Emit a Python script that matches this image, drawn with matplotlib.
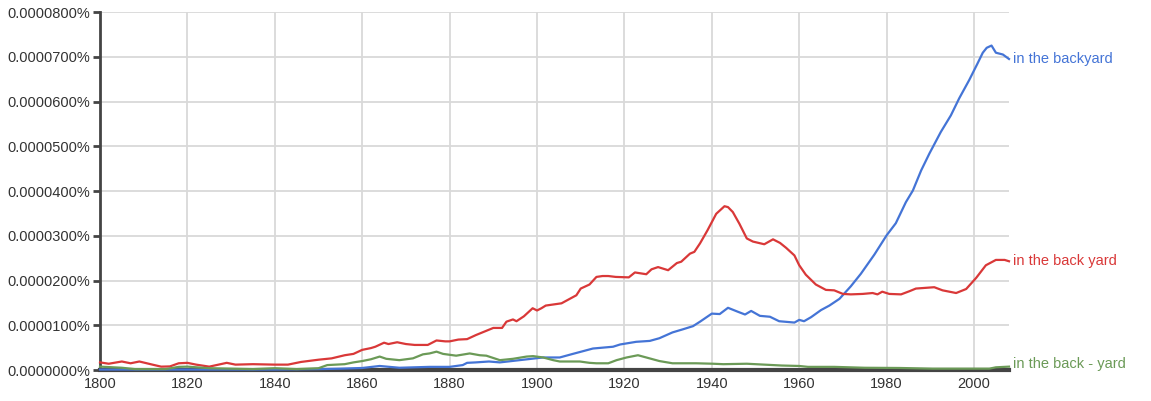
import matplotlib.pyplot as plt
from matplotlib.ticker import FuncFormatter

# Values, in units of 0.0000100 %
years_red = [1800, 1802, 1805, 1807, 1809, 1812, 1814, 1816, 1818, 1820, 1822, 1825,
             1829, 1831, 1835, 1840, 1843, 1846, 1850, 1853, 1856, 1858, 1860, 1862,
             1863, 1865, 1866, 1868, 1870, 1872, 1875, 1877, 1879, 1880, 1882, 1884,
             1886, 1888, 1890, 1892, 1893, 1894.5, 1895.3, 1897, 1899, 1900, 1901, 1902,
             1905.6, 1909, 1910, 1912, 1913.6, 1915, 1916.3, 1918, 1921, 1922.4, 1925,
             1926.2, 1927.7, 1930, 1932, 1933, 1935, 1936, 1937.3, 1939, 1941, 1942.9,
             1943.7, 1944.8, 1946.3, 1948, 1949.4, 1952, 1954, 1955.6, 1957, 1958.9,
             1960, 1961.5, 1963.8, 1966.1, 1968, 1970, 1971.8, 1974.5, 1976.8, 1977.9,
             1979, 1980.6, 1983.3, 1985.2, 1986.7, 1990.9, 1992.8, 1995.9, 1998.2,
             2000.5, 2002.7, 2005, 2007, 2008]
red = [0.17, 0.14, 0.19, 0.15, 0.19, 0.12, 0.075, 0.08, 0.15, 0.16, 0.12, 0.075,
       0.16, 0.12, 0.13, 0.12, 0.12, 0.18, 0.23, 0.26, 0.33, 0.36, 0.45, 0.49,
       0.52, 0.61, 0.58, 0.62, 0.58, 0.56, 0.56, 0.66, 0.64, 0.64, 0.68, 0.69,
       0.78, 0.86, 0.94, 0.94, 1.08, 1.13, 1.09, 1.20, 1.38, 1.33, 1.38, 1.44,
       1.49, 1.67, 1.82, 1.91, 2.08, 2.10, 2.10, 2.08, 2.07, 2.18, 2.14,
       2.25, 2.30, 2.23, 2.39, 2.42, 2.60, 2.64, 2.83, 3.12, 3.49, 3.66,
       3.64, 3.53, 3.27, 2.94, 2.87, 2.81, 2.92, 2.84, 2.73, 2.56,
       2.34, 2.13, 1.91, 1.79, 1.78, 1.70, 1.69, 1.70, 1.72, 1.69,
       1.75, 1.70, 1.69, 1.76, 1.82, 1.85, 1.78, 1.72, 1.81,
       2.06, 2.34, 2.46, 2.46, 2.43]

years_blue = [1800, 1820, 1840, 1850, 1855, 1860, 1864, 1868.5, 1875.4, 1880, 1883,
              1884, 1886, 1889, 1891.5, 1896, 1901.4, 1905.2, 1908.2, 1910.5, 1912.8,
              1917.4, 1919, 1922.7, 1925.8, 1928, 1931, 1933.4, 1935.7, 1937.3, 1940,
              1941.8, 1943.7, 1946, 1947.6, 1949, 1951, 1953.3, 1955.4, 1958.9, 1960,
              1961.1, 1962.7, 1965, 1966.9, 1969.2, 1971.8, 1974.1, 1977.2, 1980,
              1982.1, 1984.4, 1986, 1987.9, 1989.8, 1992.4, 1994.7, 1996.6, 1998.9,
              2000.8, 2002, 2002.9, 2004, 2005, 2006.6, 2008]
blue = [0.01, 0.01, 0.01, 0.02, 0.03, 0.045, 0.09, 0.05, 0.07, 0.07, 0.11,
        0.16, 0.17, 0.19, 0.17, 0.22, 0.28, 0.28, 0.36, 0.42, 0.48,
        0.52, 0.57, 0.63, 0.65, 0.71, 0.84, 0.91, 0.98, 1.08, 1.26,
        1.25, 1.39, 1.30, 1.24, 1.32, 1.21, 1.19, 1.09, 1.06, 1.12,
        1.09, 1.18, 1.34, 1.44, 1.59, 1.87, 2.15, 2.58, 3.01,
        3.28, 3.75, 4.01, 4.46, 4.84, 5.32, 5.69, 6.07, 6.48,
        6.85, 7.09, 7.20, 7.25, 7.09, 7.05, 6.95]

years_green = [1800, 1805, 1808, 1815, 1818, 1820, 1825, 1835, 1840, 1845, 1850,
               1852, 1856, 1858, 1860, 1862, 1864, 1865.5, 1868.5, 1871.6, 1873.9,
               1875.4, 1877, 1878.5, 1881.5, 1884.6, 1886.9, 1888.4, 1891.5, 1894.5,
               1897.6, 1899.1, 1901.4, 1903.7, 1905.2, 1909.8, 1912, 1913.6, 1916.3,
               1918.2, 1920.5, 1923.1, 1925, 1928, 1931, 1936.4, 1940.3, 1942.6, 1948,
               1956, 1960, 1962, 1968, 1975, 1983, 1990.5, 1998, 2003.5, 2005, 2008]
green = [0.075, 0.05, 0.02, 0.02, 0.07, 0.075, 0.04, 0.02, 0.04, 0.02, 0.04,
         0.11, 0.13, 0.17, 0.20, 0.24, 0.30, 0.25, 0.22, 0.26, 0.35,
         0.37, 0.41, 0.36, 0.32, 0.37, 0.33, 0.32, 0.22, 0.25,
         0.30, 0.31, 0.28, 0.22, 0.19, 0.19, 0.16, 0.15, 0.15,
         0.22, 0.28, 0.33, 0.28, 0.20, 0.15, 0.15, 0.14, 0.13, 0.14,
         0.10, 0.09, 0.07, 0.07, 0.05, 0.045, 0.03, 0.03, 0.03, 0.06, 0.075]

series = [
    ("in the backyard", years_blue, blue, "#4474d6", 0),
    ("in the back yard", years_red, red, "#d93838", 0),
    ("in the back - yard", years_green, green, "#6b9a57", 2),
]

plt.rcParams['font.family'] = ['Liberation Sans', 'DejaVu Sans']

fig = plt.figure(figsize=(11.51, 4.01), dpi=100)
ax = fig.add_axes([100 / 1151, 1 - 370 / 401, 909 / 1151, 358 / 401])

for label, xs, ys, color, dy in series:
    ax.plot(xs, ys, color=color, lw=1.6, solid_joinstyle='round', zorder=5,
            clip_on=False)
    ax.annotate(label, xy=(xs[-1], ys[-1]), xytext=(3, dy), textcoords='offset points',
                color=color, fontsize=10.5, va='center', ha='left',
                annotation_clip=False)

ax.set_xlim(1800, 2008)
ax.set_ylim(0, 8)
ax.set_xticks(range(1800, 2001, 20))
ax.set_yticks(range(0, 9))
ax.yaxis.set_major_formatter(FuncFormatter(lambda v, p: f"{v * 1e-5:.7f}%"))

ax.grid(True, color='#d9d9d9', lw=1.3)
ax.set_axisbelow(True)
for s in ['top', 'right']:
    ax.spines[s].set_visible(False)
ax.spines['left'].set_color('#444444')
ax.spines['left'].set_linewidth(2)
ax.spines['bottom'].set_color('#444444')
ax.spines['bottom'].set_linewidth(3)
ax.tick_params(axis='y', length=5, width=2, color='#444444', labelsize=10.5,
               labelcolor='#333333', pad=2)
ax.tick_params(axis='x', length=0, labelsize=10.5, labelcolor='#333333', pad=5)

fig.savefig("out.png", dpi=100)
